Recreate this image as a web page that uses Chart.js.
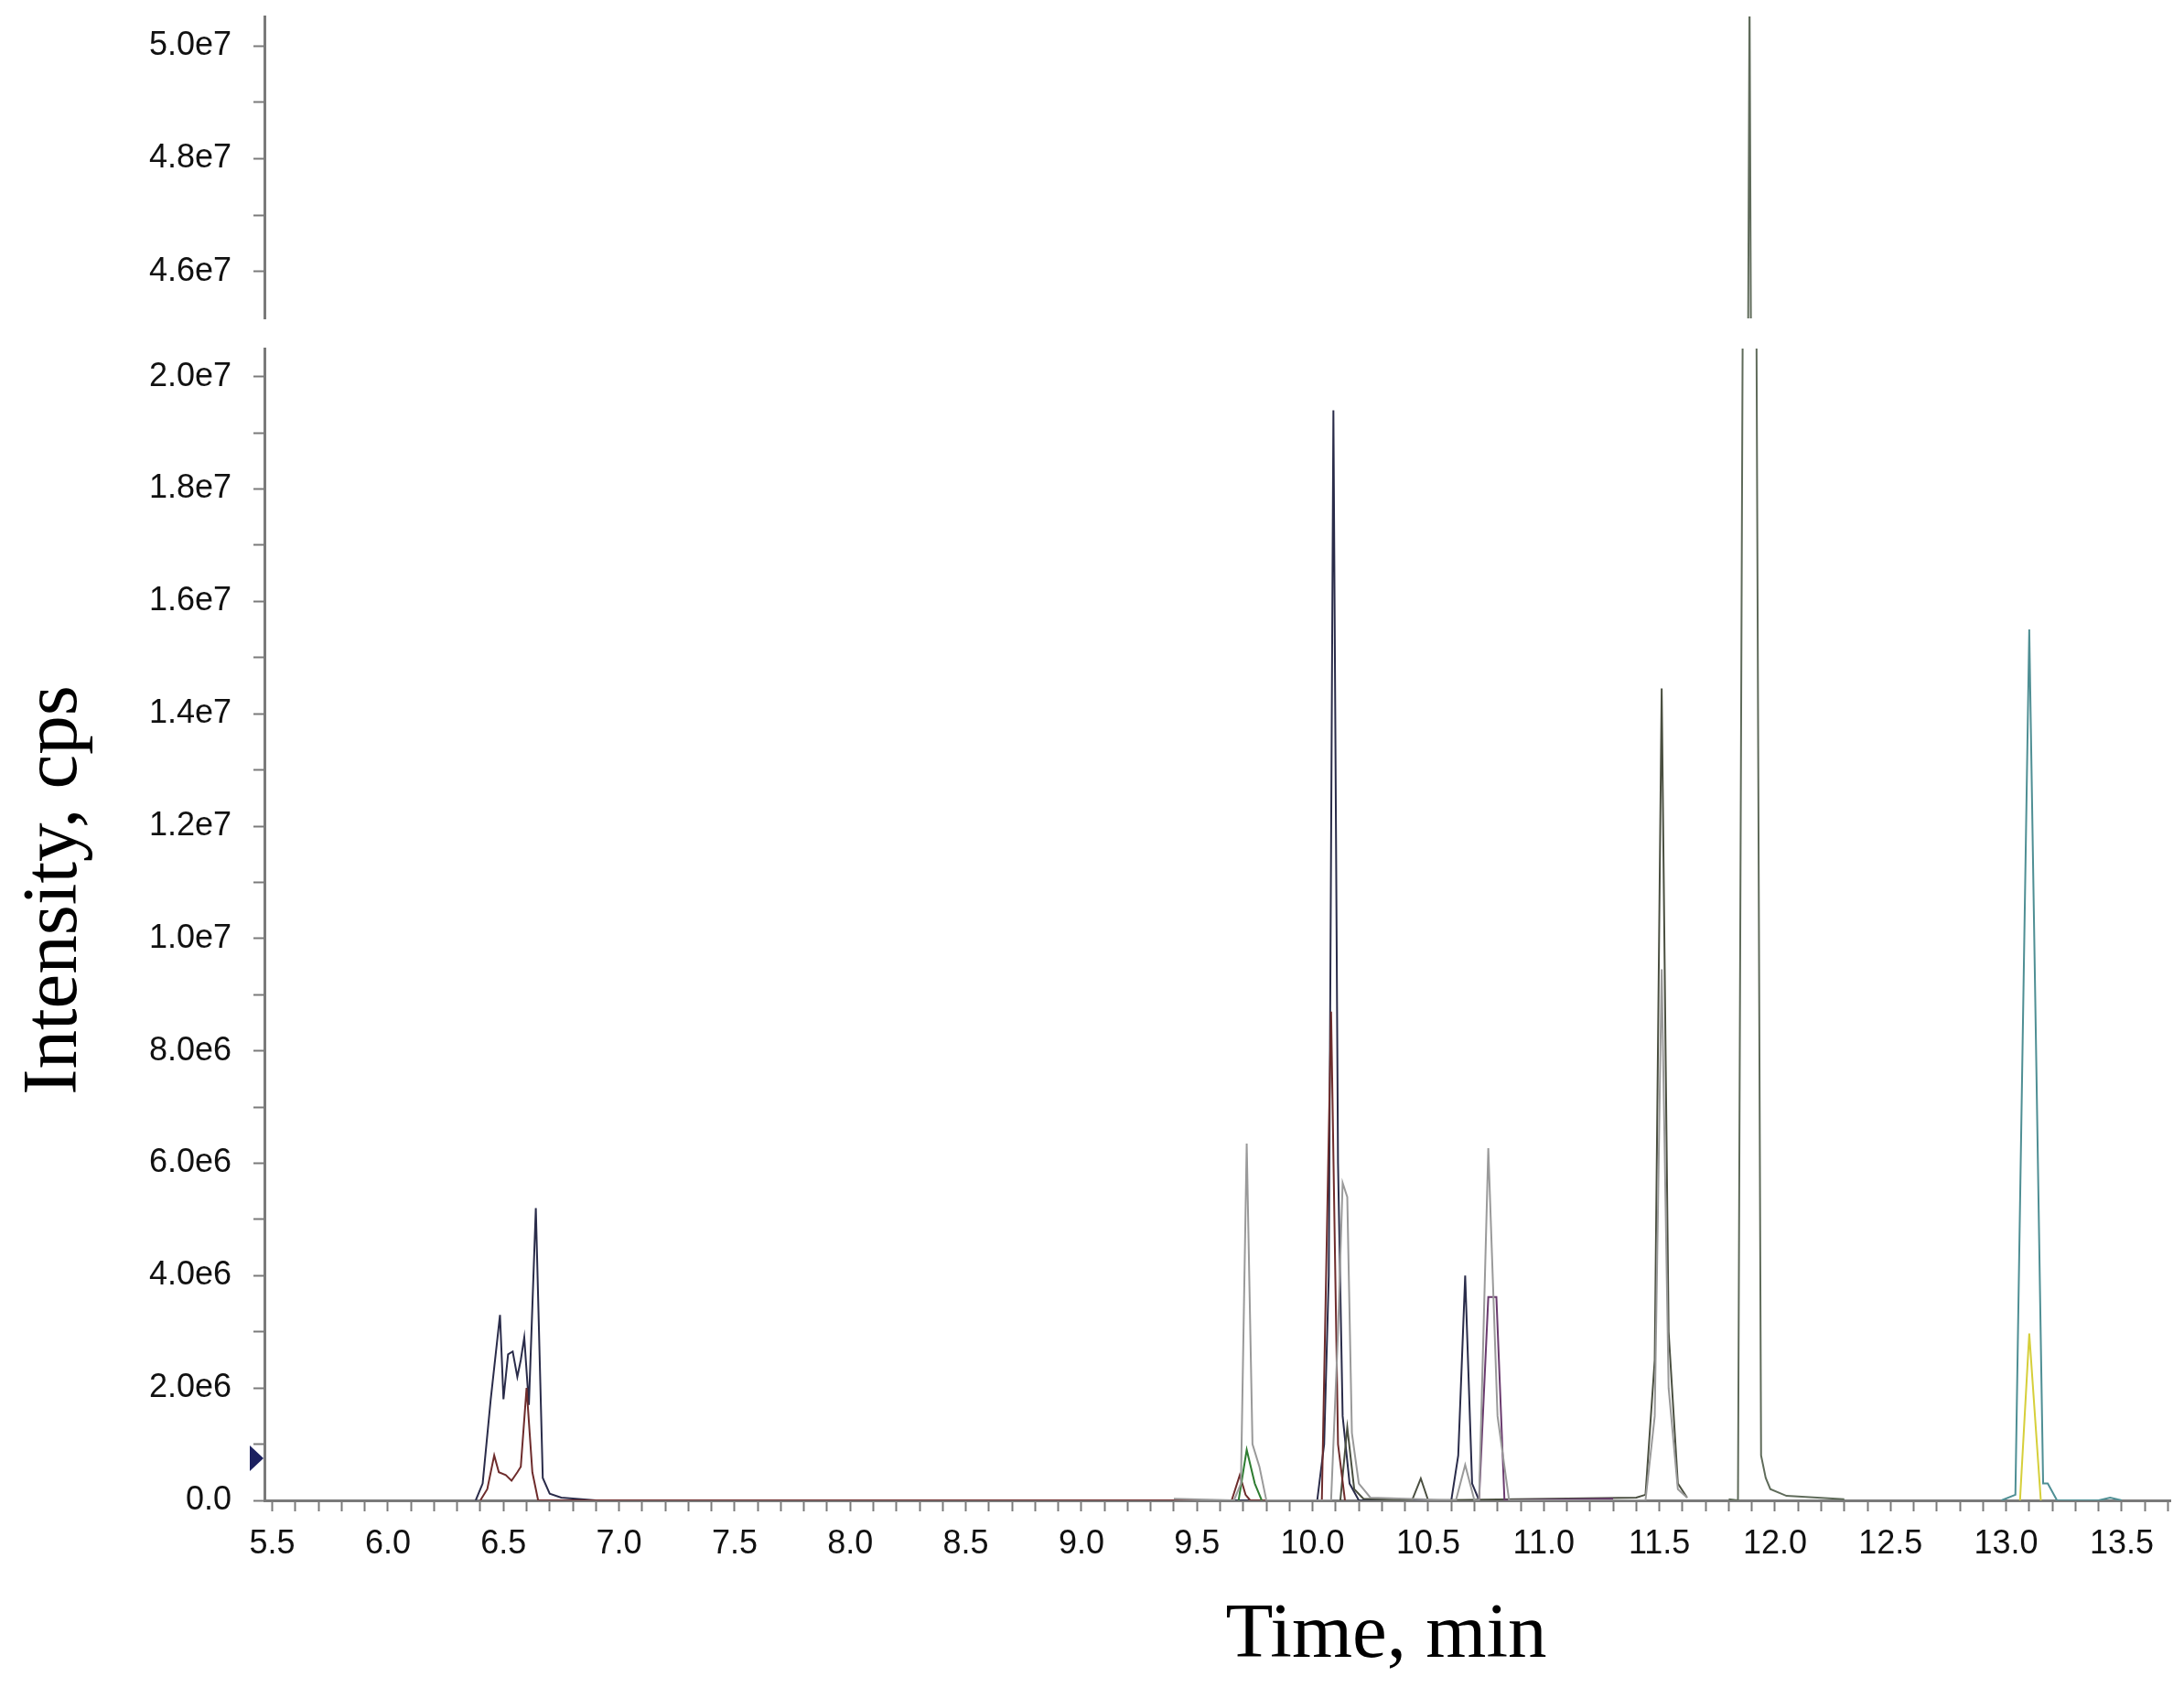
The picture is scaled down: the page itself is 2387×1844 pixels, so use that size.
<!DOCTYPE html>
<html><head><meta charset="utf-8">
<script src="https://cdn.jsdelivr.net/npm/chart.js@4"></script>
<style>
html,body{margin:0;padding:0;background:#fff;width:2387px;height:1844px;overflow:hidden}
.box{position:absolute;left:0;width:2387px}
</style></head><body>
<div class="box" style="top:0;height:380px"><canvas id="top"></canvas></div>
<div class="box" style="top:365px;height:1479px"><canvas id="bot"></canvas></div>
<script>
// ---- data (time in min, intensity in cps) ----
const xTickValues = [];
const yTicksTop = [4.6e7,4.7e7,4.8e7,4.9e7,5.0e7];
const yTicksBottom = [0,1e6,2e6,3e6,4e6,5e6,6e6,7e6,8e6,9e6,1e7,1.1e7,1.2e7,1.3e7,1.4e7,1.5e7,1.6e7,1.7e7,1.8e7,1.9e7,2.0e7];

const tNavy = [6.38,6.41,6.445,6.485,6.50,6.52,6.54,6.56,6.575,6.59,6.61,6.64,6.67,6.70,6.75,6.9, 10.02,10.05,10.07,10.09,10.11,10.13,10.16,10.2, 10.60,10.63,10.66,10.69,10.72];
const vNavy = [0,0.3e6,1.8e6,3.3e6,1.8e6,2.6e6,2.65e6,2.2e6,2.5e6,2.9e6,1.7e6,5.2e6,0.4e6,0.12e6,0.05e6,0, 0,1.0e6,4.0e6,19.4e6,6.0e6,1.5e6,0.3e6,0, 0,0.8e6,4.0e6,0.3e6,0];

const tMaroon = [6.40,6.43,6.46,6.48,6.51,6.535,6.56,6.575,6.60,6.625,6.65, 9.65,9.685,9.71,9.73, 10.04,10.08,10.11,10.14];
const vMaroon = [0,0.2e6,0.8e6,0.5e6,0.45e6,0.35e6,0.5e6,0.6e6,2.0e6,0.5e6,0, 0,0.45e6,0.1e6,0, 0,8.7e6,1.0e6,0];

const tGrey = [9.40,9.66,9.69,9.715,9.74,9.77,9.80, 10.08,10.11,10.13,10.15,10.17,10.2,10.25, 10.62,10.66,10.70, 10.72,10.76,10.80,10.85, 11.44,11.48,11.51,11.54,11.58,11.62];
const vGrey = [0.03e6,0,0.3e6,6.35e6,1.0e6,0.6e6,0, 0,3.0e6,5.65e6,5.4e6,1.2e6,0.3e6,0.05e6, 0,0.63e6,0, 0,6.27e6,1.5e6,0, 0,1.5e6,9.45e6,2.0e6,0.2e6,0.05e6];

const tGreen = [9.68,9.715,9.75,9.78];
const vGreen = [0,0.9e6,0.3e6,0];

const tBlack = [10.12,10.15,10.18,10.22, 10.43,10.468,10.50, 11.40,11.44,11.48,11.51,11.54,11.58,11.62];
const vBlack = [0,1.3e6,0.2e6,0.03e6, 0,0.39e6,0, 0.05e6,0.1e6,2.5e6,14.45e6,3.0e6,0.3e6,0.05e6];

const tPurple = [10.72,10.76,10.795,10.83,11.3];
const vPurple = [0,3.62e6,3.62e6,0,0.03e6];

const tBig = [11.80,11.84,11.89,11.94,11.96,11.98,12.05,12.3];
const vBig = [0.02e6,0,5.1e7,0.8e6,0.4e6,0.2e6,0.08e6,0.02e6];

const tTeal = [12.98,13.04,13.10,13.16,13.18,13.22,13.40,13.45,13.50];
const vTeal = [0,0.1e6,15.5e6,0.3e6,0.3e6,0,0,0.05e6,0];

const tYellow = [13.06,13.10,13.15];
const vYellow = [0,2.97e6,0];

const markerValue = 0.75e6;
const X_MIN = 5.466, X_MAX = 13.71;
for (let k = 55; k <= 137; k++) xTickValues.push(k/10);

function pts(t, v){ return t.map((x,i)=>({x, y:v[i]})); }
function ds(t,v,color){ return {data:pts(t,v), borderColor:color, borderWidth:2, pointRadius:0, tension:0, fill:false}; }
function makeDatasets(){ return [
  ds(tGrey,vGrey,'#9a9a9a'),
  ds(tGreen,vGreen,'#2f7d32'),
  ds(tMaroon,vMaroon,'#6e2c2c'),
  ds(tPurple,vPurple,'#6a3a6e'),
  ds(tBlack,vBlack,'#4a4f40'),
  ds(tNavy,vNavy,'#2a2c4a'),
  ds(tBig,vBig,'#5f6b5a'),
  ds(tTeal,vTeal,'#4f8f94'),
  ds(tYellow,vYellow,'#d6cf3a')
];}

const fmt = v => v===0 ? '0.0' : v.toExponential(1).replace('+','');
const tickFont = {family:'Liberation Sans', size:36};
const axisColor = '#7a7a7a';

function yScale(min,max,ticks){
  return {type:'linear', min, max,
    afterBuildTicks: s => { s.ticks = ticks.map(v=>({value:v})); },
    afterFit: s => { s.width = 289; s.paddingTop = 0; s.paddingBottom = 0; },
    ticks:{font:tickFont, color:'#111', padding:24, autoSkip:false,
      callback:(v)=> (Math.round(v/1e6)%2===0) ? fmt(v) : ''},
    grid:{drawOnChartArea:false, tickLength:12, tickColor:axisColor, tickWidth:2},
    border:{color:axisColor, width:3}};
}

Chart.defaults.animation = false;

new Chart(document.getElementById('top'), {
  type:'line',
  data:{datasets:makeDatasets()},
  options:{responsive:true, maintainAspectRatio:false, devicePixelRatio:1,
    layout:{padding:{top:18,bottom:32,left:0,right:15}},
    plugins:{legend:{display:false}, tooltip:{enabled:false}},
    scales:{
      x:{type:'linear', min:X_MIN, max:X_MAX, display:false},
      y:yScale(4.517e7,5.052e7,yTicksTop)
    }}
});

const overlay = {
  id:'overlay',
  afterDraw(chart){
    const c = chart.ctx, ys = chart.scales.y;
    c.save();
    const py = ys.getPixelForValue(markerValue), ax = chart.chartArea.left;
    c.fillStyle = '#1c2160';
    c.beginPath(); c.moveTo(ax-1,py); c.lineTo(ax-16,py-14); c.lineTo(ax-16,py+14); c.closePath(); c.fill();
    c.fillStyle = '#000';
    c.font = '85px "Liberation Serif"';
    c.textAlign = 'center'; c.textBaseline = 'middle';
    c.fillText('Time, min', 1515, 1424);
    c.translate(61, 608); c.rotate(-Math.PI/2);
    c.fillText('Intensity, cps', 0, 0);
    c.restore();
  }
};

new Chart(document.getElementById('bot'), {
  type:'line',
  data:{datasets:makeDatasets()},
  plugins:[overlay],
  options:{responsive:true, maintainAspectRatio:false, devicePixelRatio:1,
    layout:{padding:{top:16,bottom:0,left:0,right:15}},
    plugins:{legend:{display:false}, tooltip:{enabled:false}},
    scales:{
      x:{type:'linear', min:X_MIN, max:X_MAX,
        afterBuildTicks: s => { s.ticks = xTickValues.map(v=>({value:v})); },
        afterFit: s => { s.height = 204; s.paddingLeft = 0; s.paddingRight = 0; },
        ticks:{font:tickFont, color:'#111', padding:14, autoSkip:false, maxRotation:0,
          callback:(v)=> (Math.round(v*10)%5===0) ? v.toFixed(1) : ''},
        grid:{drawOnChartArea:false, tickLength:12, tickColor:axisColor, tickWidth:2},
        border:{color:axisColor, width:3}},
      y:yScale(0,2.05e7,yTicksBottom)
    }}
});
</script>
</body></html>
